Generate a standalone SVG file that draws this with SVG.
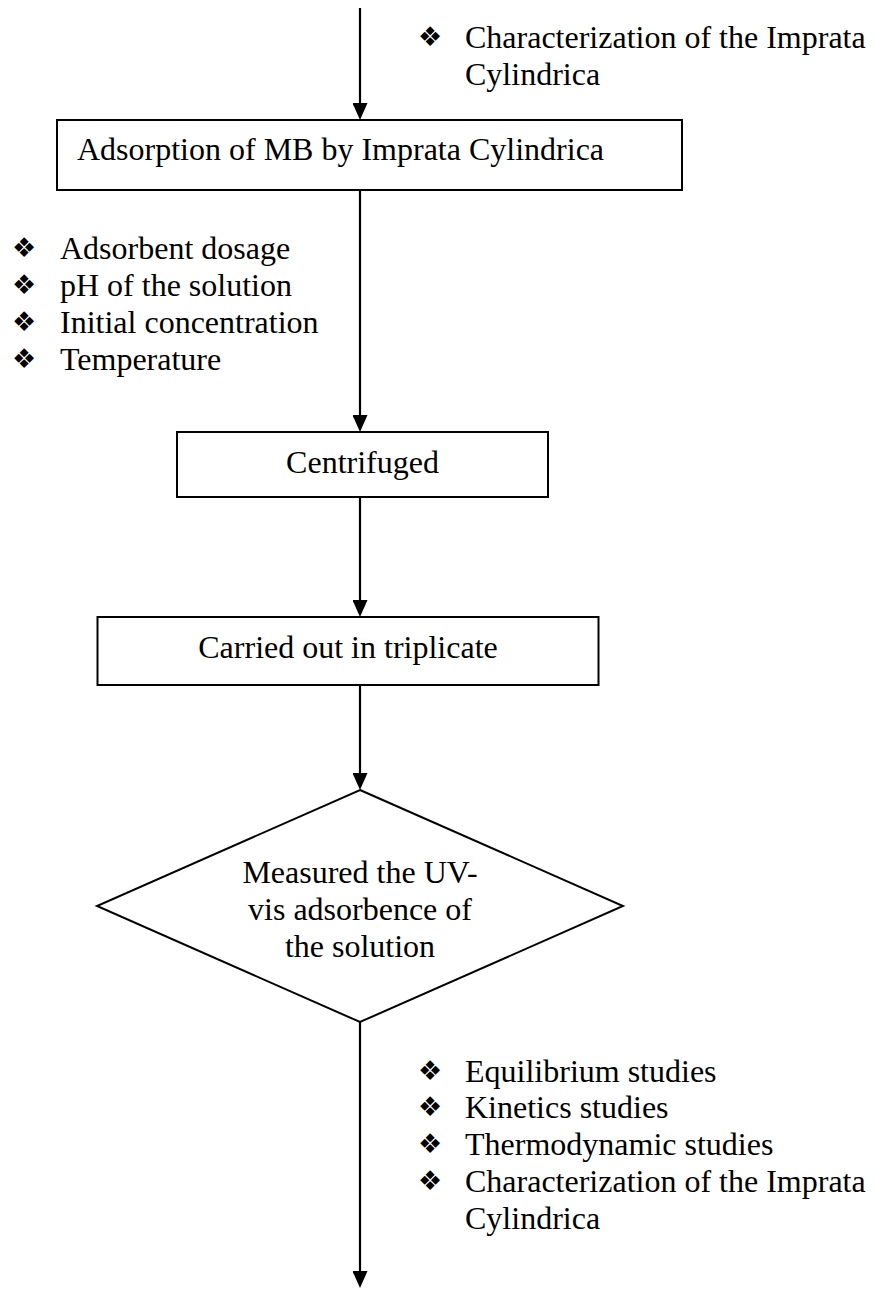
<svg xmlns="http://www.w3.org/2000/svg" width="875" height="1289" viewBox="0 0 875 1289">
<style>
.t{font-family:"Liberation Serif","Times New Roman",serif;font-size:32px;fill:#000}
.b{font-family:"DejaVu Sans",sans-serif;font-size:27px;fill:#000}
.n{fill:#fff;stroke:#000;stroke-width:2}
.c{stroke:#000;stroke-width:2.2;fill:none;marker-end:url(#ah)}
</style>
<defs>
<marker id="ah" markerWidth="17" markerHeight="15" refX="7" refY="7.5" orient="auto" markerUnits="userSpaceOnUse" viewBox="0 0 17 15">
<path d="M0,0 L17,7.5 L0,15 Z" fill="#000"/>
</marker>
</defs>
<rect width="875" height="1289" fill="#fff"/>
<g id="connectors">
<line class="c" x1="360" y1="8" x2="360" y2="110"/>
<line class="c" x1="360" y1="190" x2="360" y2="422"/>
<line class="c" x1="360" y1="497" x2="360" y2="607"/>
<line class="c" x1="360" y1="685" x2="360" y2="780"/>
<line class="c" x1="360" y1="1022" x2="360" y2="1278"/>
</g>
<g id="note-top">
<text class="b" x="418" y="46">❖</text>
<text class="t" x="465" y="48">Characterization of the Imprata</text>
<text class="t" x="465" y="84.8">Cylindrica</text>
</g>
<g id="adsorption">
<rect class="n" x="57" y="120" width="625" height="70"/>
<text class="t" x="77" y="160">Adsorption of MB by Imprata Cylindrica</text>
</g>
<g id="note-left">
<text class="b" x="12" y="257">❖</text>
<text class="t" x="60" y="259">Adsorbent dosage</text>
<text class="b" x="12" y="294">❖</text>
<text class="t" x="60" y="296">pH of the solution</text>
<text class="b" x="12" y="331">❖</text>
<text class="t" x="60" y="333">Initial concentration</text>
<text class="b" x="12" y="368">❖</text>
<text class="t" x="60" y="370">Temperature</text>
</g>
<g id="centrifuged">
<rect class="n" x="177" y="432" width="371" height="65"/>
<text class="t" x="362.5" y="473" text-anchor="middle">Centrifuged</text>
</g>
<g id="triplicate">
<rect class="n" x="97.5" y="617" width="501" height="68"/>
<text class="t" x="348" y="658" text-anchor="middle">Carried out in triplicate</text>
</g>
<g id="measure">
<polygon class="n" points="360,790 623,906 360,1022 97,906"/>
<text class="t" x="360" y="883" text-anchor="middle">Measured the UV-</text>
<text class="t" x="360" y="920" text-anchor="middle">vis adsorbence of</text>
<text class="t" x="360" y="957" text-anchor="middle">the solution</text>
</g>
<g id="note-bottom">
<text class="b" x="418" y="1080">❖</text>
<text class="t" x="465" y="1082">Equilibrium studies</text>
<text class="b" x="418" y="1116">❖</text>
<text class="t" x="465" y="1118">Kinetics studies</text>
<text class="b" x="418" y="1153">❖</text>
<text class="t" x="465" y="1155">Thermodynamic studies</text>
<text class="b" x="418" y="1190">❖</text>
<text class="t" x="465" y="1192">Characterization of the Imprata</text>
<text class="t" x="465" y="1229">Cylindrica</text>
</g>
</svg>
